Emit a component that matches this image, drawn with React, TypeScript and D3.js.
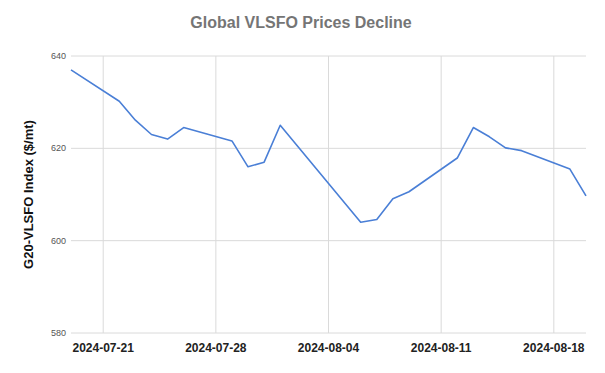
import * as d3 from 'd3'

const dates = [
    '2024-07-19', '2024-07-22', '2024-07-23', '2024-07-24', '2024-07-25', '2024-07-26',
    '2024-07-29', '2024-07-30', '2024-07-31', '2024-08-01', '2024-08-06', '2024-08-07',
    '2024-08-08', '2024-08-09', '2024-08-12', '2024-08-13', '2024-08-14', '2024-08-15',
    '2024-08-16', '2024-08-19', '2024-08-20'
]
const prices = [
    637.0, 630.2, 626.1, 623.0, 622.0, 624.5,
    621.6, 616.0, 617.0, 625.0, 604.0, 604.6,
    609.1, 610.6, 617.9, 624.5, 622.5, 620.1,
    619.5, 615.5, 609.7
]
const xTicks = ['2024-07-21', '2024-07-28', '2024-08-04', '2024-08-11', '2024-08-18']
const yTicks = [580, 600, 620, 640]

const width = 605
const height = 373
const margin = { top: 56, right: 19, bottom: 40, left: 71 }

const parse = d3.utcParse('%Y-%m-%d')

export default function App() {
    const points = dates.map((d, i) => ({ date: parse(d) as Date, value: prices[i] }))

    const xScale = d3
        .scaleUtc()
        .domain([parse('2024-07-19') as Date, parse('2024-08-20') as Date])
        .range([margin.left, width - margin.right])
    const yScale = d3
        .scaleLinear()
        .domain([580, 640])
        .range([height - margin.bottom, margin.top])

    const line = d3
        .line<{ date: Date; value: number }>()
        .x((d) => xScale(d.date))
        .y((d) => yScale(d.value))

    const plotTop = yScale(640)
    const plotBottom = yScale(580)

    return (
        <svg
            width={width}
            height={height}
            style={{ position: 'absolute', left: 0, top: 0, background: '#fff' }}
            fontFamily="'Liberation Sans', Arial, sans-serif"
        >
            <text x={301} y={28} textAnchor="middle" fontSize="16" fontWeight="bold" fill="#757575">
                Global VLSFO Prices Decline
            </text>

            {/* grid */}
            {yTicks.map((t) => (
                <g key={t}>
                    <line
                        x1={margin.left}
                        x2={width - margin.right}
                        y1={yScale(t)}
                        y2={yScale(t)}
                        stroke="#dadada"
                        strokeWidth="1"
                    />
                    <text x={66} y={yScale(t)} dy="0.35em" textAnchor="end" fontSize="9" fill="#555">
                        {t}
                    </text>
                </g>
            ))}
            {xTicks.map((t) => {
                const x = xScale(parse(t) as Date)
                return (
                    <g key={t}>
                        <line x1={x} x2={x} y1={plotTop} y2={plotBottom} stroke="#dadada" strokeWidth="1" />
                        <text x={x} y={352} textAnchor="middle" fontSize="12" fontWeight="bold" fill="#222">
                            {t}
                        </text>
                    </g>
                )
            })}

            <text
                transform={`translate(33, ${(plotTop + plotBottom) / 2}) rotate(-90)`}
                textAnchor="middle"
                fontSize="13"
                fontWeight="bold"
                fill="#111"
            >
                G20-VLSFO Index ($/mt)
            </text>

            <path d={line(points) ?? ''} fill="none" stroke="#4a7fd6" strokeWidth="1.6" strokeLinejoin="round" />
        </svg>
    )
}
